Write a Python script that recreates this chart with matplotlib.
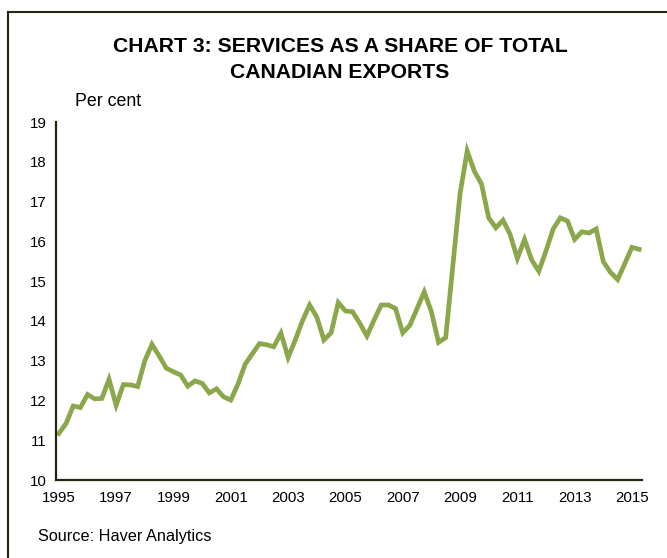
import matplotlib
matplotlib.use("Agg")
import matplotlib.pyplot as plt
from matplotlib import font_manager
from matplotlib.lines import Line2D

# Data: quarterly, 1995Q1 - 2015Q2, services as % of total Canadian exports
services_share = [
    11.17, 11.42, 11.86, 11.82, 12.15, 12.04, 12.05, 12.53,
    11.88, 12.40, 12.39, 12.35, 13.00, 13.41, 13.12, 12.81,
    12.72, 12.64, 12.36, 12.49, 12.43, 12.19, 12.29, 12.09,
    12.01, 12.41, 12.91, 13.17, 13.43, 13.40, 13.35, 13.69,
    13.08, 13.52, 14.00, 14.40, 14.10, 13.52, 13.70, 14.46,
    14.25, 14.23, 13.94, 13.62, 14.02, 14.40, 14.40, 14.31,
    13.70, 13.89, 14.31, 14.73, 14.23, 13.46, 13.58, 15.40,
    17.20, 18.27, 17.76, 17.44, 16.59, 16.34, 16.53, 16.17,
    15.57, 16.05, 15.53, 15.25, 15.76, 16.31, 16.59, 16.51,
    16.05, 16.24, 16.21, 16.31, 15.49, 15.22, 15.04, 15.44,
    15.85, 15.80,
]
year_labels = ["1995", "1997", "1999", "2001", "2003", "2005",
               "2007", "2009", "2011", "2013", "2015"]
y_ticks = [10, 11, 12, 13, 14, 15, 16, 17, 18, 19]

plt.rcParams['font.family'] = ['Liberation Sans', 'DejaVu Sans']

W, H = 667, 558
fig = plt.figure(figsize=(W / 100, H / 100), dpi=100)
fig.patch.set_facecolor("white")

ax = fig.add_axes([56 / W, (H - 480) / H, (642 - 56) / W, (480 - 122) / H])
x = list(range(len(services_share)))
ax.plot(x, services_share, color="#8aa84b", linewidth=3.4, solid_joinstyle="miter")

ax.set_xlim(-0.4, len(services_share) - 0.6)
ax.set_ylim(10, 19)
ax.set_yticks(y_ticks)
ax.set_yticklabels([str(v) for v in y_ticks], fontsize=10.8)
ax.set_xticks([i * 8 for i in range(len(year_labels))])
ax.set_xticklabels(year_labels, fontsize=10.8)
ax.tick_params(axis="x", length=0, pad=8)
ax.tick_params(axis="y", length=0, pad=7)
for s in ("top", "right"):
    ax.spines[s].set_visible(False)
for s in ("left", "bottom"):
    ax.spines[s].set_color("#262610")
    ax.spines[s].set_linewidth(1.6)

# Title and labels
fig.text(340 / W, 1 - 46 / H, "CHART 3: SERVICES AS A SHARE OF TOTAL",
         ha="center", va="center", fontsize=15.2, fontweight="bold")
fig.text(340 / W, 1 - 72 / H, "CANADIAN EXPORTS",
         ha="center", va="center", fontsize=15.2, fontweight="bold")
fig.text(75 / W, 1 - 101 / H, "Per cent", ha="left", va="center", fontsize=12.8)
fig.text(38 / W, 1 - 536 / H, "Source: Haver Analytics", ha="left", va="center", fontsize=11.7)

# Outer frame (left and top edges)
fig.add_artist(Line2D([8 / W, 8 / W], [0, 1 - 12 / H], transform=fig.transFigure,
                      color="#262610", linewidth=1.5))
fig.add_artist(Line2D([8 / W, 1], [1 - 12 / H, 1 - 12 / H], transform=fig.transFigure,
                      color="#262610", linewidth=1.5))

fig.savefig("out.png", dpi=100)
